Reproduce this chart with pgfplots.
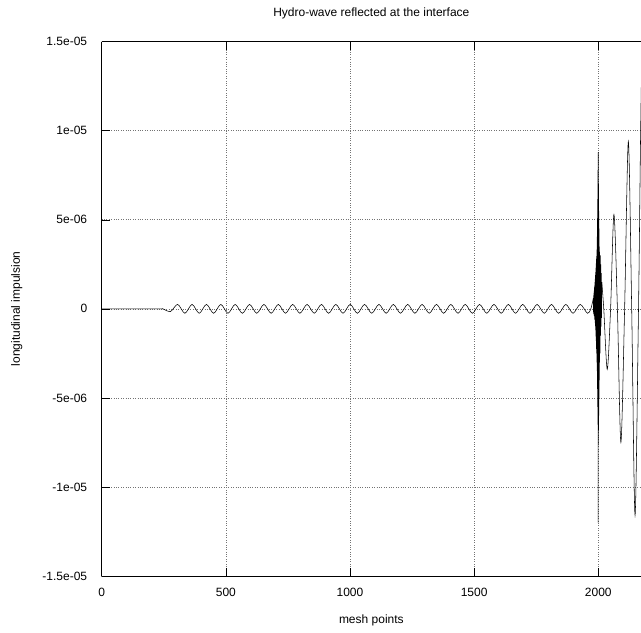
\documentclass[border=0pt]{standalone}
\usepackage{pgfplots}
\pgfplotsset{compat=1.18}
\usepackage{fontspec}
\setmainfont{Liberation Sans}
\begin{document}
\begin{tikzpicture}[font=\fontsize{12bp}{14bp}\selectfont]
\begin{axis}[
  name=ax,
  scale only axis,
  width=539.3bp, height=534.3bp,
  xmin=0, xmax=2172,
  ymin=-1.5e-5, ymax=1.5e-5,
  axis x line*=box, axis y line*=left,
  xtick={0,500,1000,1500,2000},
  xticklabels={0,500,1000,1500,2000},
  ytick={-1.5e-5,-1e-5,-5e-6,0,5e-6,1e-5,1.5e-5},
  yticklabels={-1.5e-05,-1e-05,-5e-06,0,5e-06,1e-05,1.5e-05},
  scaled y ticks=false,
  tick align=inside,
  major tick length=8bp,
  tick style={black, line width=0.5pt},
  grid=major,
  grid style={dotted, black!55, line width=0.6pt},
  axis line style={black, line width=0.6pt},
  yticklabel style={xshift=-11bp},
  xticklabel style={yshift=-9bp},
  xlabel={mesh points},
  ylabel={longitudinal impulsion},
  title={Hydro-wave reflected at the interface},
  every axis x label/.style={at={(axis description cs:0.5,-0.0824)}, anchor=center},
  every axis y label/.style={at={(axis description cs:-0.1576,0.5)}, rotate=90, anchor=center},
  every axis title/.style={at={(axis description cs:0.5,1.0524)}, anchor=center},
]
\addplot[black, line width=0.55pt, smooth] coordinates {
(0,0) (230,0) (245,0)
(277.0,-1.5e-7) (306.0,2.5e-7) (335.0,-2.5e-7) (363.9,2.5e-7) (392.8,-2.5e-7)
(421.8,2.5e-7) (450.8,-2.5e-7) (479.7,2.5e-7) (508.6,-2.5e-7) (537.6,2.5e-7)
(566.5,-2.5e-7) (595.5,2.5e-7) (624.4,-2.5e-7) (653.4,2.5e-7) (682.4,-2.5e-7)
(711.3,2.5e-7) (740.2,-2.5e-7) (769.2,2.5e-7) (798.2,-2.5e-7) (827.1,2.5e-7)
(856.0,-2.5e-7) (885.0,2.5e-7) (914.0,-2.5e-7) (942.9,2.5e-7) (971.8,-2.5e-7)
(1000.8,2.5e-7) (1029.8,-2.5e-7) (1058.7,2.5e-7) (1087.6,-2.5e-7) (1116.6,2.5e-7)
(1145.6,-2.5e-7) (1174.5,2.5e-7) (1203.4,-2.5e-7) (1232.4,2.5e-7) (1261.4,-2.5e-7)
(1290.3,2.5e-7) (1319.2,-2.5e-7) (1348.2,2.5e-7) (1377.2,-2.5e-7) (1406.1,2.5e-7)
(1435.0,-2.5e-7) (1464.0,2.5e-7) (1493.0,-2.5e-7) (1521.9,2.5e-7) (1550.8,-2.5e-7)
(1579.8,2.5e-7) (1608.8,-2.5e-7) (1637.7,2.5e-7) (1666.6,-2.5e-7) (1695.6,2.5e-7)
(1724.6,-2.5e-7) (1753.5,2.5e-7) (1782.4,-2.5e-7) (1811.4,2.5e-7) (1840.4,-2.5e-7)
(1869.3,2.5e-7) (1898.2,-2.5e-7) (1927.2,2.5e-7) (1956.2,-2.5e-7)
(1970,0) (1980,0.6e-6)
};
\addplot[black, line width=0.6pt] coordinates {
(1980,0.6e-6) (1981,-0.3e-6) (1982,0.9e-6) (1983,-0.4e-6) (1984,1.2e-6)
(1985,-0.6e-6) (1986,1.5e-6) (1987,-0.8e-6) (1988,1.9e-6) (1989,-1.2e-6)
(1990,2.3e-6) (1991,-1.8e-6) (1992,2.8e-6) (1993,-2.5e-6) (1994,3.2e-6)
(1994.5,-3.0e-6) (1995,3.8e-6) (1995.5,-3.5e-6) (1996,4.5e-6) (1996.5,-4.5e-6)
(1997,5.5e-6) (1997.5,-5.5e-6) (1998,6.5e-6) (1998.5,-6.5e-6) (1999,8.0e-6)
(1999.5,-12.0e-6) (2000,8.8e-6) (2000.5,-7.0e-6) (2001,7.0e-6) (2001.5,-6.8e-6)
(2002,5.5e-6) (2002.5,-6.0e-6) (2003,4.5e-6) (2003.5,-5.0e-6) (2004,3.5e-6)
(2004.5,-4.0e-6) (2005,3.2e-6) (2005.5,-3.0e-6) (2006,3.0e-6) (2007,-2.5e-6)
(2008,3.0e-6) (2009,-1.5e-6) (2010,2.5e-6) (2011,-1.0e-6) (2012,2.0e-6)
(2013,-0.5e-6) (2014,1.5e-6)
};
\addplot[black, line width=0.55pt, smooth] coordinates {
(2014,1.5e-6) (2022,0) (2036,-3.4e-6) (2049.5,0) (2063,5.3e-6) (2077,0)
(2091,-7.5e-6) (2106,0) (2121,9.4e-6) (2134.5,0) (2148,-11.6e-6) (2162,0)
(2176,13.8e-6) (2190,0)
};
\end{axis}
\pgfresetboundingbox
\path ([xshift=-101.7bp, yshift=-57bp]ax.south west) rectangle ([yshift=41.7bp]ax.north east);
\end{tikzpicture}
\end{document}
